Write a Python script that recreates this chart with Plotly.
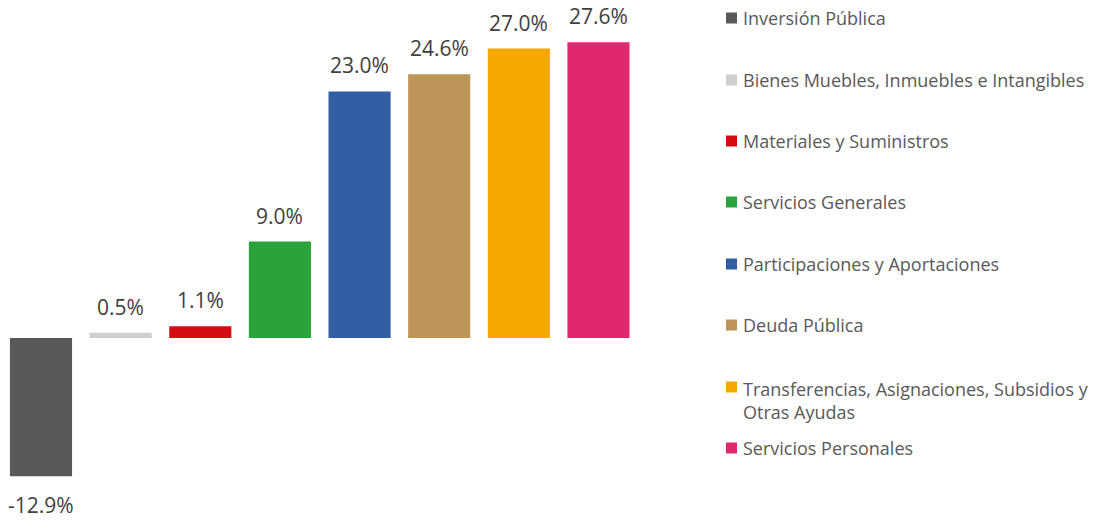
import plotly.graph_objects as go

# Variación por capítulo de gasto (%)
categorias = [
    "Inversión Pública",
    "Bienes Muebles, Inmuebles e Intangibles",
    "Materiales y Suministros",
    "Servicios Generales",
    "Participaciones y Aportaciones",
    "Deuda Pública",
    "Transferencias, Asignaciones, Subsidios y<br>Otras Ayudas",
    "Servicios Personales",
]
variacion = [-12.9, 0.5, 1.1, 9.0, 23.0, 24.6, 27.0, 27.6]
colores = ["#595959", "#D0CECE", "#D40C14", "#29A33A", "#325FA3", "#BD9559", "#F7A800", "#E0276F"]

W, H = 1094, 521
# vertical pixel position of each legend row (first line)
legend_rows_px = [18, 80, 141, 202, 264, 325, 387, 448]

fig = go.Figure()
for i, (cat, val, col) in enumerate(zip(categorias, variacion, colores)):
    fig.add_trace(go.Bar(
        x=[i], y=[val], name=cat, marker=dict(color=col, line=dict(width=0)),
        width=0.78, showlegend=False, hoverinfo="skip",
    ))
    fig.add_annotation(
        x=i, y=val, text=f"{val:.1f}%", showarrow=False,
        yanchor="middle", yshift=26 if val >= 0 else -29,
        font=dict(family="Open Sans", size=21, color="#404040"),
    )

# custom legend on the right
for cat, col, ypx in zip(categorias, colores, legend_rows_px):
    fig.add_shape(
        type="rect", xref="paper", yref="paper",
        x0=726 / W, x1=737 / W, y0=1 - (ypx + 5.5) / H, y1=1 - (ypx - 5.5) / H,
        fillcolor=col, line=dict(width=0),
    )
    two_lines = "<br>" in cat
    fig.add_annotation(
        xref="paper", yref="paper", x=741 / W,
        y=1 - (ypx - 12) / H if two_lines else 1 - ypx / H,
        xanchor="left", yanchor="top" if two_lines else "middle",
        text=cat, showarrow=False, align="left",
        font=dict(family="Open Sans", size=18, color="#595959"),
    )

zero_px = 338
px_per_unit = 10.72
fig.update_layout(
    width=W, height=H,
    margin=dict(l=0, r=0, t=0, b=0),
    paper_bgcolor="white", plot_bgcolor="white",
    barmode="overlay",
    xaxis=dict(domain=[0, 638.3 / W], range=[-41 / 79.64, 7.5],
               visible=False, fixedrange=True),
    yaxis=dict(range=[-(H - zero_px) / px_per_unit, zero_px / px_per_unit],
               visible=False, fixedrange=True, zeroline=False),
)

fig.write_html("out.html")
